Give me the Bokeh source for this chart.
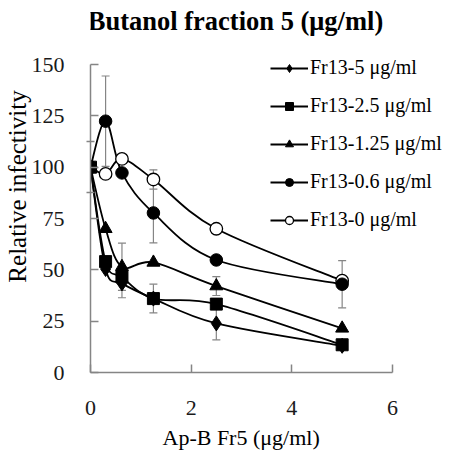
import numpy as np
from bokeh.plotting import figure
from bokeh.models import (ColumnDataSource, Range1d, FixedTicker, Whisker, TeeHead,
                          Legend, LegendItem, Label, Title)
from bokeh.embed import file_html
from bokeh.resources import INLINE

# Ap-B Fr5 concentration (µg/ml)
conc = [0, 0.3, 0.625, 1.25, 2.5, 5]

# Relative infectivity for each Fr13 concentration
fr13_5 = [100, 50.4, 43.4, 36.0, 23.9, 13.0]
fr13_2_5 = [100, 54.0, 46.5, 36.0, 33.3, 13.5]
fr13_1_25 = [100, 70.0, 51.5, 53.6, 42.1, 21.5]
fr13_0_6 = [100, 122.4, 97.2, 77.7, 54.8, 43.0]
fr13_0 = [100, 96.7, 104.0, 94.0, 70.0, 44.7]

# Standard deviations (0 = no error bar drawn)
err_5 = [0, 0, 7.0, 0, 8.0, 0]
err_2_5 = [0, 0, 0, 7.0, 0, 0]
err_1_25 = [0, 0, 11.5, 0, 4.6, 0]
err_0_6 = [0, 22.0, 0, 14.6, 0, 11.5]
err_0 = [0, 0, 0, 4.7, 0, 0]

labels = ["Fr13-5 \u03bcg/ml", "Fr13-2.5 \u03bcg/ml", "Fr13-1.25 \u03bcg/ml",
          "Fr13-0.6 \u03bcg/ml", "Fr13-0 \u03bcg/ml"]
y_ticks = [0, 25, 50, 75, 100, 125, 150]
y_minor = [87.5, 112.5]
x_ticks = [0, 2, 4, 6]

SERIF = "Liberation Serif"
AXIS_GRAY = "#858585"

# the plotting area reaches the top and right edges so that the legend
# and the heading sit inside it; the axes themselves stop at 6 and 150
p = figure(width=455, height=455, output_backend="svg", toolbar_location=None,
           title=None, x_range=Range1d(0, 7.252), y_range=Range1d(0, 181.17),
           min_border_left=90, min_border_right=0, min_border_top=0,
           min_border_bottom=83)
p.outline_line_color = None
p.grid.visible = False
p.background_fill_color = "white"
p.border_fill_color = "white"

xax = p.xaxis[0]
yax = p.yaxis[0]
xax.bounds = (0, 6)
yax.bounds = (0, 150)
xax.ticker = FixedTicker(ticks=x_ticks)
yax.ticker = FixedTicker(ticks=y_ticks, minor_ticks=y_minor)
for ax in (xax, yax):
    ax.axis_line_color = AXIS_GRAY
    ax.axis_line_width = 1.5
    ax.major_tick_line_color = AXIS_GRAY
    ax.major_tick_line_width = 1.5
    ax.major_tick_in = 8
    ax.major_tick_out = 0
    ax.major_label_text_font = SERIF
    ax.major_label_text_font_style = "normal"
    ax.major_label_text_font_size = "22px"
    ax.major_label_text_color = "#1a1a1a"
    ax.axis_label_text_font = SERIF
    ax.axis_label_text_font_style = "normal"
    ax.axis_label_text_color = "black"
yax.minor_tick_line_color = AXIS_GRAY
yax.minor_tick_line_width = 1.5
yax.minor_tick_in = 4
yax.minor_tick_out = 4
xax.minor_tick_line_color = None
yax.major_label_standoff = 22
xax.major_label_standoff = 28

yax.axis_label = "Relative infectivity"
yax.axis_label_text_font_size = "25px"
yax.axis_label_standoff = -2

# x-axis caption, placed from the left edge of the plotting area
p.add_layout(Title(text="Ap-B Fr5 (\u03bcg/ml)", align="left", offset=72,
                   standoff=11, text_font=SERIF, text_font_size="22px",
                   text_font_style="normal", text_color="black"), "below")


def smooth_segments(xs, ys):
    """Cubic Bezier control points for a smoothed curve through the points."""
    xs = np.asarray(xs, float)
    ys = np.asarray(ys, float)
    n = len(xs)
    seg = dict(x0=[], y0=[], x1=[], y1=[], cx0=[], cy0=[], cx1=[], cy1=[])
    for i in range(n - 1):
        a = max(i - 1, 0)
        d = min(i + 2, n - 1)
        seg["x0"].append(xs[i]); seg["y0"].append(ys[i])
        seg["x1"].append(xs[i + 1]); seg["y1"].append(ys[i + 1])
        seg["cx0"].append(xs[i] + (xs[i + 1] - xs[a]) / 6)
        seg["cy0"].append(ys[i] + (ys[i + 1] - ys[a]) / 6)
        seg["cx1"].append(xs[i + 1] - (xs[d] - xs[i]) / 6)
        seg["cy1"].append(ys[i + 1] - (ys[d] - ys[i]) / 6)
    return seg


# (label, values, errors, marker style), in legend order
series = [
    (labels[0], fr13_5, err_5, dict(marker="diamond", size=15,
                                    fill_color="black", line_color="black")),
    (labels[1], fr13_2_5, err_2_5, dict(marker="square", size=12,
                                        fill_color="black", line_color="black")),
    (labels[2], fr13_1_25, err_1_25, dict(marker="triangle", size=13,
                                          fill_color="black", line_color="black")),
    (labels[3], fr13_0_6, err_0_6, dict(marker="circle", size=12.5,
                                        fill_color="black", line_color="black")),
    (labels[4], fr13_0, err_0, dict(marker="circle", size=12.5, fill_color="white",
                                    line_color="black", line_width=1.3)),
]
# drawing order: the 2.5 µg/ml squares end up on top
draw_order = [4, 3, 2, 0, 1]

# error bars underneath everything
for _, vals, errs, _ in series:
    pts = [(x, v, e) for x, v, e in zip(conc, vals, errs) if e > 0]
    if not pts:
        continue
    src = ColumnDataSource(dict(base=[q[0] for q in pts],
                                lower=[q[1] - q[2] for q in pts],
                                upper=[q[1] + q[2] for q in pts]))
    p.add_layout(Whisker(source=src, base="base", lower="lower", upper="upper",
                         line_color=AXIS_GRAY, line_width=1.2,
                         upper_head=TeeHead(size=8, line_color=AXIS_GRAY, line_width=1.2),
                         lower_head=TeeHead(size=8, line_color=AXIS_GRAY, line_width=1.2)))

curves = {}
for i in draw_order:
    curves[i] = p.bezier(source=ColumnDataSource(smooth_segments(conc, series[i][1])),
                         x0="x0", y0="y0", x1="x1", y1="y1",
                         cx0="cx0", cy0="cy0", cx1="cx1", cy1="cy1",
                         line_color="black", line_width=1.8)

points = {}
for i in draw_order:
    points[i] = p.scatter(conc, series[i][1], **series[i][3])

items = [LegendItem(label=series[i][0], renderers=[curves[i], points[i]])
         for i in range(len(series))]
legend = Legend(items=items, location=(180, 141), padding=0, margin=0,
                spacing=15, glyph_width=38, glyph_height=20, label_height=20,
                label_standoff=2, label_text_font=SERIF,
                label_text_font_size="20px", label_text_color="black",
                border_line_alpha=0, background_fill_alpha=0)
p.add_layout(legend)

# heading
p.add_layout(Label(x=145, y=352, x_units="screen", y_units="screen",
                   text="Butanol fraction 5 (\u03bcg/ml)", text_font=SERIF,
                   text_font_style="bold", text_font_size="26.5px",
                   text_align="center", text_baseline="alphabetic",
                   text_color="black"))

open("out.html", "w").write(file_html(p, INLINE))
